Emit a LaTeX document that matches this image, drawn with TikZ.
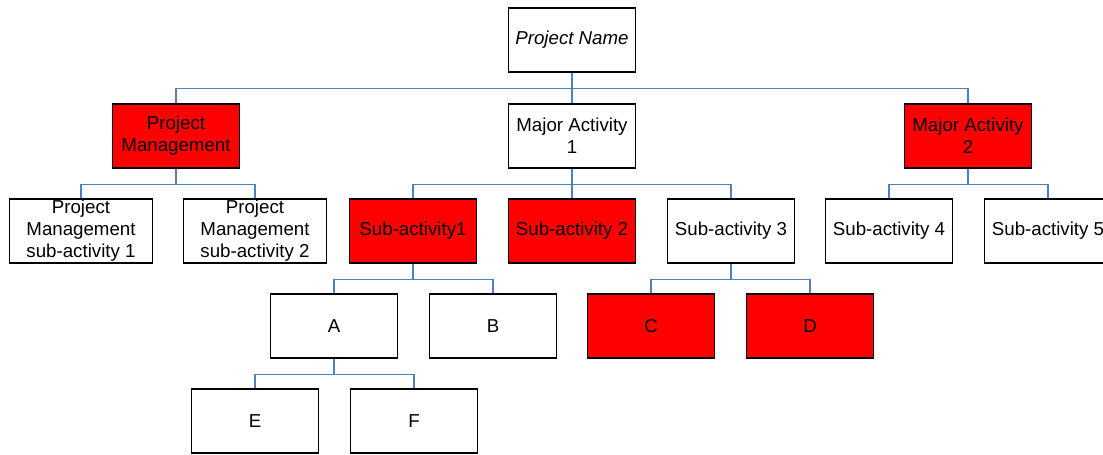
\documentclass[tikz,border=0pt]{standalone}
\usepackage{fontspec}
\setmainfont{Liberation Sans}
\definecolor{linkblue}{HTML}{4F81BD}
\begin{document}
\begin{tikzpicture}[x=1pt,y=-1pt,
  box/.style={draw=black, line width=1.2pt, minimum width=127pt, minimum height=64pt,
    inner sep=0pt, align=center, font=\fontsize{18.7}{22}\selectfont, fill=white},
  redbox/.style={box, fill=red},
  widebox/.style={box, minimum width=143pt},
  conn/.style={draw=linkblue, line width=1.4pt}]
\useasboundingbox (0,0) rectangle (1103,455);
\fill[white] (0,0) rectangle (1103,455);
\begin{scope}
\clip (0,0) rectangle (1103,455);
% level 0
\node[box] (pn) at (572,40) {\textit{Project Name}};
% level 1
\node[redbox] (pm) at (176,136) {Project\\Management};
\node[box] (ma1) at (572,136) {Major Activity\\1};
\node[redbox] (ma2) at (968,136) {Major Activity\\2};
% level 2
\node[widebox] (ps1) at (81,231) {Project\\Management\\sub-activity 1};
\node[widebox] (ps2) at (255,231) {Project\\Management\\sub-activity 2};
\node[redbox] (s1) at (413,231) {Sub-activity1};
\node[redbox] (s2) at (572,231) {Sub-activity 2};
\node[box] (s3) at (731,231) {Sub-activity 3};
\node[box] (s4) at (889,231) {Sub-activity 4};
\node[box] (s5) at (1048,231) {Sub-activity 5};
% level 3
\node[box] (a) at (334,326) {A};
\node[box] (b) at (493,326) {B};
\node[redbox] (c) at (651,326) {C};
\node[redbox] (d) at (810,326) {D};
% level 4
\node[box] (e) at (255,421) {E};
\node[box] (f) at (414,421) {F};
% connectors
\foreach \p/\c in {pn/pm, pn/ma1, pn/ma2, pm/ps1, pm/ps2, ma1/s1, ma1/s2, ma1/s3,
                   ma2/s4, ma2/s5, s1/a, s1/b, s3/c, s3/d, a/e, a/f}
  \draw[conn] (\p.south) -- ++(0,16) -| (\c.north);
\end{scope}
\end{tikzpicture}
\end{document}
